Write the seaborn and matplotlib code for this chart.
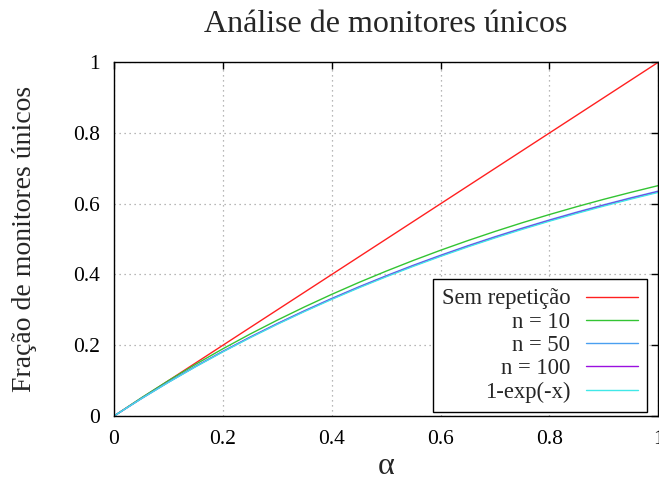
import numpy as np
import pandas as pd
import seaborn as sns
import matplotlib
matplotlib.use("Agg")
import matplotlib.pyplot as plt

# Data
alpha = [0.00, 0.05, 0.10, 0.15, 0.20, 0.25, 0.30, 0.35, 0.40, 0.45, 0.50,
         0.55, 0.60, 0.65, 0.70, 0.75, 0.80, 0.85, 0.90, 0.95, 1.00]
sem_repeticao = [0.00, 0.05, 0.10, 0.15, 0.20, 0.25, 0.30, 0.35, 0.40, 0.45, 0.50,
                 0.55, 0.60, 0.65, 0.70, 0.75, 0.80, 0.85, 0.90, 0.95, 1.00]
n10 = [0.0, 0.0513, 0.1000, 0.1462, 0.1900, 0.2316, 0.2710, 0.3084, 0.3439, 0.3776, 0.4095,
       0.4398, 0.4686, 0.4958, 0.5217, 0.5463, 0.5695, 0.5916, 0.6126, 0.6324, 0.6513]
n50 = [0.0, 0.0493, 0.0961, 0.1406, 0.1829, 0.2232, 0.2614, 0.2978, 0.3324, 0.3653, 0.3965,
       0.4263, 0.4545, 0.4814, 0.5069, 0.5312, 0.5543, 0.5763, 0.5971, 0.6170, 0.6358]
n100 = [0.0, 0.0490, 0.0956, 0.1400, 0.1821, 0.2222, 0.2603, 0.2965, 0.3310, 0.3638, 0.3950,
        0.4247, 0.4528, 0.4797, 0.5051, 0.5294, 0.5525, 0.5744, 0.5953, 0.6152, 0.6340]
exp_curve = [0.0, 0.0488, 0.0952, 0.1393, 0.1813, 0.2212, 0.2592, 0.2953, 0.3297, 0.3624, 0.3935,
             0.4231, 0.4512, 0.4780, 0.5034, 0.5276, 0.5507, 0.5726, 0.5934, 0.6133, 0.6321]

series_labels = ["Sem repetição", "n = 10", "n = 50", "n = 100", "1-exp(-x)"]
series_values = [sem_repeticao, n10, n50, n100, exp_curve]
colors = ["#ff2020", "#33c433", "#4a9ff0", "#9a10e0", "#40e8e8"]

xticks = [0, 0.2, 0.4, 0.6, 0.8, 1.0]
xtick_labels = ["0", "0.2", "0.4", "0.6", "0.8", "1"]
yticks = [0, 0.2, 0.4, 0.6, 0.8, 1.0]
ytick_labels = ["0", "0.2", "0.4", "0.6", "0.8", "1"]

rows = []
for lab, vals in zip(series_labels, series_values):
    for x, y in zip(alpha, vals):
        rows.append({"alpha": x, "frac": y, "serie": lab})
df = pd.DataFrame(rows)

sns.set_style("white")
plt.rcParams["font.family"] = ["Liberation Serif", "DejaVu Serif"]

fig = plt.figure(figsize=(6.59, 4.86), dpi=100)
ax = fig.add_axes([0.173, 0.144, 0.826, 0.728])

sns.lineplot(data=df, x="alpha", y="frac", hue="serie", hue_order=series_labels,
             palette=colors, linewidth=1.0, ax=ax, legend=False)

ax.set_xlim(0, 1)
ax.set_ylim(0, 1)
ax.set_xticks(xticks)
ax.set_xticklabels(xtick_labels)
ax.set_yticks(yticks)
ax.set_yticklabels(ytick_labels)
ax.tick_params(direction="in", length=5, width=1, top=True, right=True,
               labelsize=15.5, colors="black", pad=10)
ax.grid(True, linestyle=(0, (1, 3)), color="#a0a0a0", linewidth=0.9)
for s in ax.spines.values():
    s.set_color("black")
    s.set_linewidth(1.0)

ax.set_title("Análise de monitores únicos", fontsize=23, pad=22)
ax.set_xlabel("α", fontsize=23, labelpad=2)
ax.set_ylabel("Fração de monitores únicos", fontsize=20, labelpad=26)

handles = ax.get_lines()[:len(series_labels)]
leg = ax.legend(handles, series_labels, loc="lower right", bbox_to_anchor=(0.98, 0.012),
                borderaxespad=0, markerfirst=False, frameon=True, fancybox=False,
                edgecolor="black", fontsize=16.3, handlelength=2.3, labelspacing=0.1,
                borderpad=0.4, handletextpad=0.7)
leg.get_frame().set_linewidth(1.0)
leg.get_frame().set_alpha(1)

fig.savefig("out.png", dpi=100)
